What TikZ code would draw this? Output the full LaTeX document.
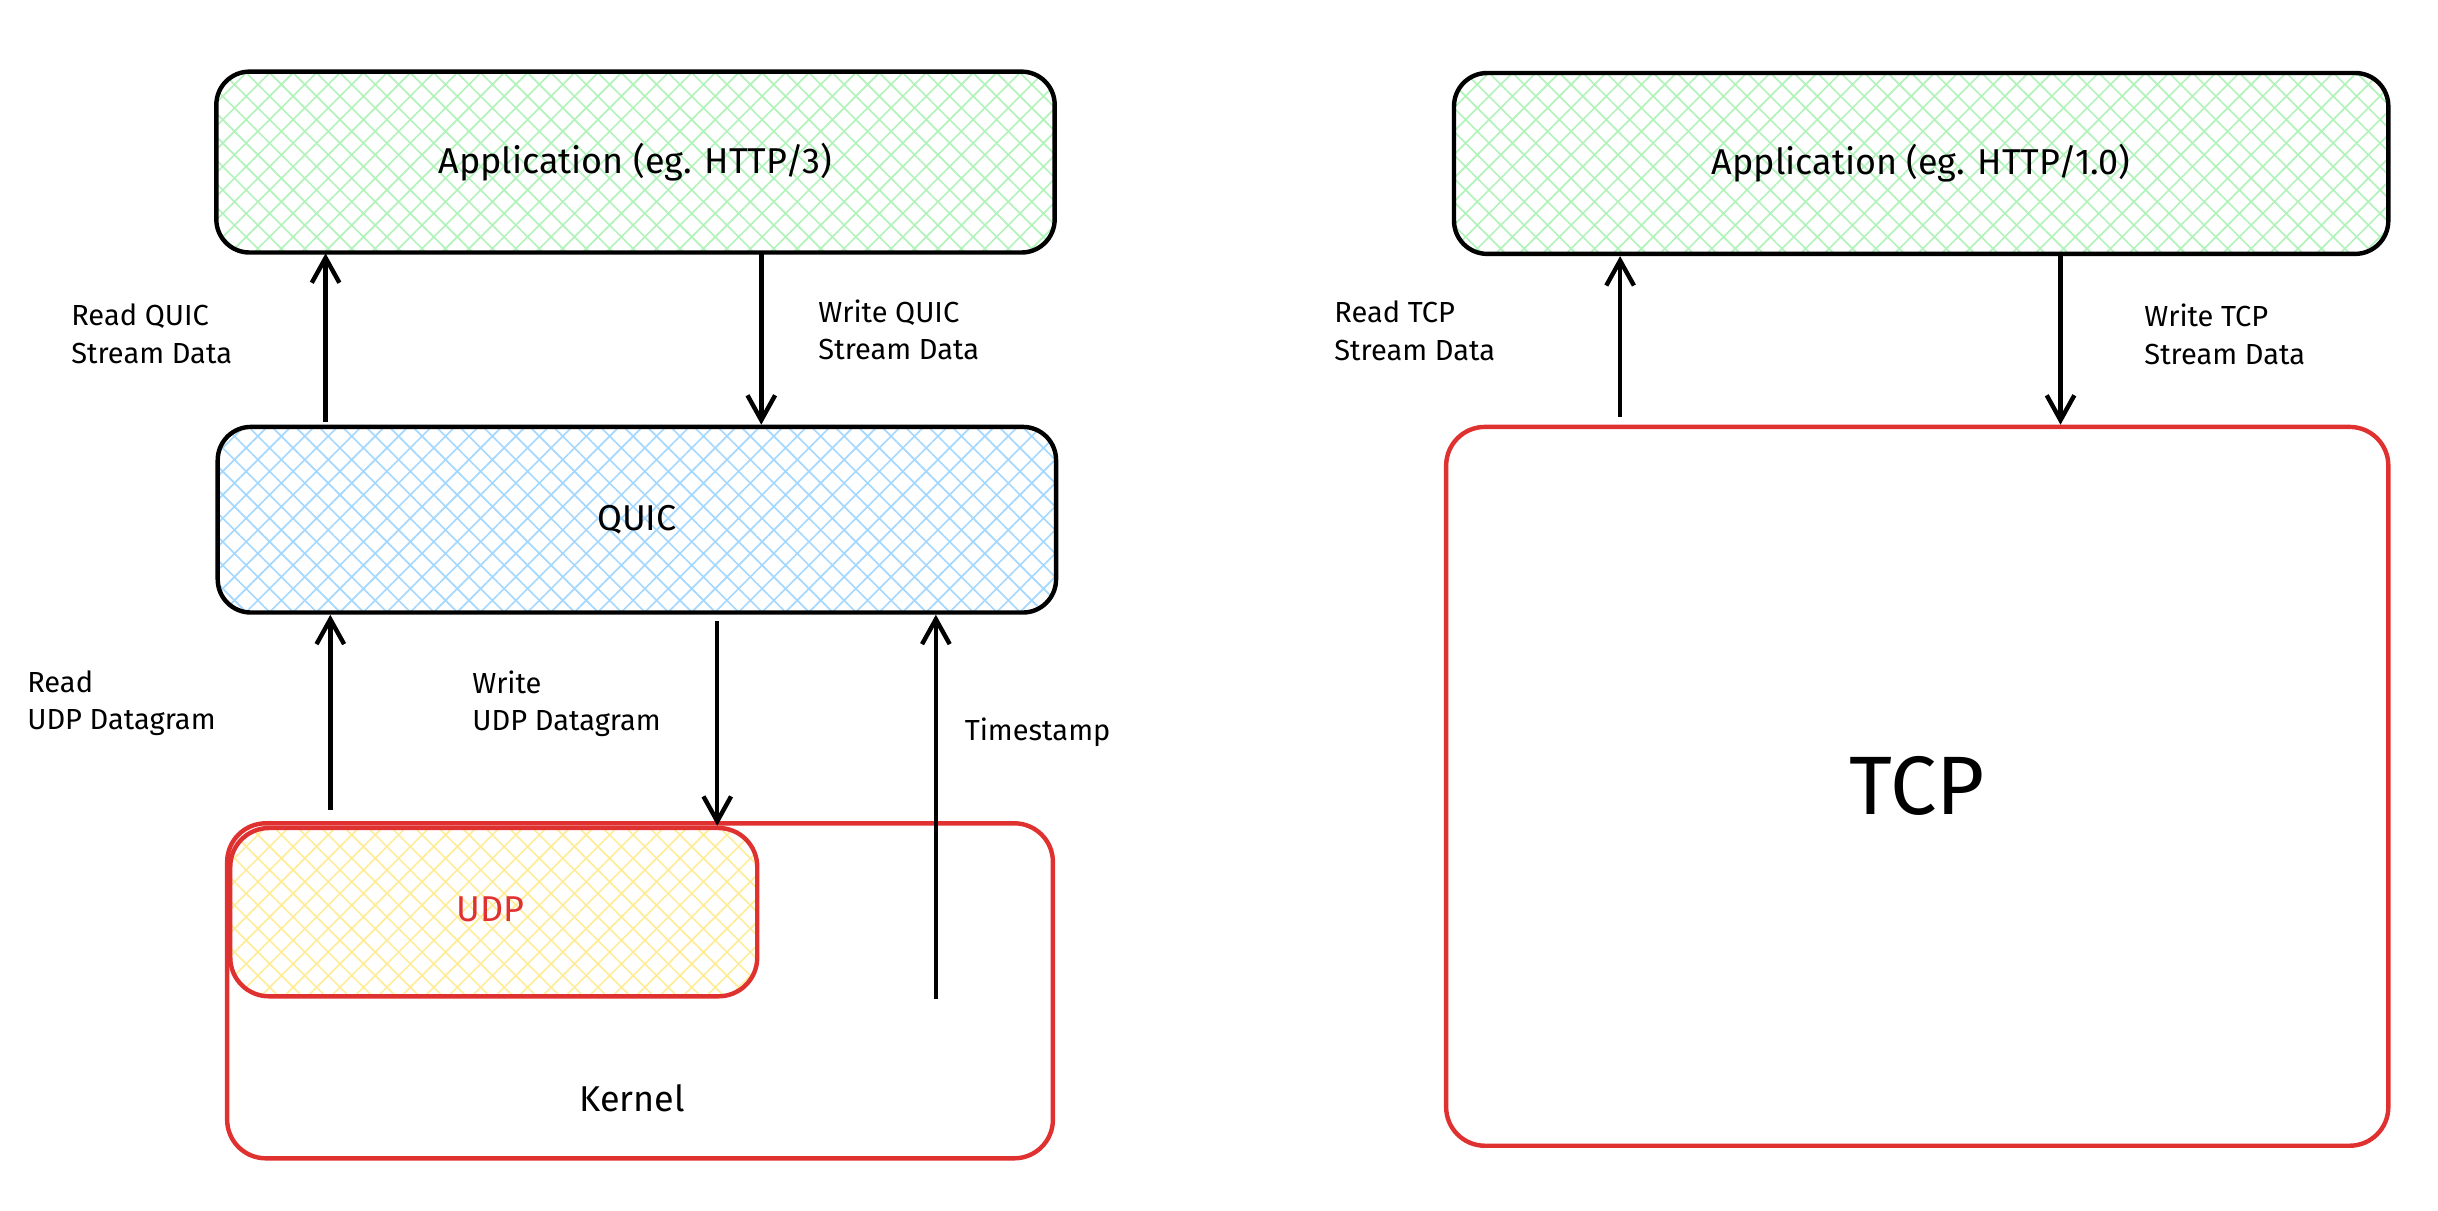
\documentclass[tikz,border=0pt]{standalone}
\usepackage{fontspec}
\setmainfont{Fira Sans}
\usetikzlibrary{patterns.meta,arrows.meta}
\definecolor{hgreen}{HTML}{B2F2BB}
\definecolor{hblue}{HTML}{A5D8FF}
\definecolor{hyellow}{HTML}{FFEC99}
\definecolor{kred}{HTML}{E03131}
\tikzset{
  layer/.style={draw=black, line width=1.6pt, rounded corners=12pt, inner sep=0pt, anchor=north west},
  hatched/.style={pattern={Hatch[angle=45,distance=6pt,line width=0.6pt]}, pattern color=#1},
  kbox/.style={draw=kred, line width=1.6pt, rounded corners=14pt, inner sep=0pt, anchor=north west},
  flow/.style={line width=1.6pt, -{Straight Barb[length=9pt,width=10pt]}},
  lbl/.style={align=left, anchor=north west, font=\fontsize{10.5}{13.5}\selectfont, inner sep=0pt},
  title/.style={font=\fontsize{13}{15}\selectfont}
}
\begin{document}
\begin{tikzpicture}[x=0.02cm, y=-0.02cm]
\useasboundingbox (0,0) rectangle (1550,769.3);
%left stack
\node[layer, hatched=hgreen, minimum width=533*0.02cm, minimum height=115*0.02cm] (app) at (137,45) {};
\node[title] at (app.center) {Application (eg. HTTP/3)};
\node[layer, hatched=hblue, minimum width=533*0.02cm, minimum height=118*0.02cm] (quic) at (137,270) {};
\node[title] at (quic.center) {QUIC};
\node[kbox, minimum width=525*0.02cm, minimum height=213*0.02cm] (kernel) at (143,522) {};
\node[title] at (402,698) {Kernel};
\node[kbox, hatched=hyellow, minimum width=335*0.02cm, minimum height=107*0.02cm] (udp) at (145,525) {};
\node[title, text=kred] at (312,578) {UDP};
%arrows
\coordinate (rq) at (207,268);
\coordinate (wq) at (484,160);
\coordinate (ru) at (210,515);
\coordinate (wu) at (456,395);
\coordinate (ts) at (595,635);
\draw[flow] (rq) -- (rq |- app.south);
\draw[flow] (wq) -- (wq |- quic.north);
\draw[flow] (ru) -- (ru |- quic.south);
\draw[flow] (wu) -- (wu |- udp.north);
\draw[flow] (ts) -- (ts |- quic.south);
%labels
\node[lbl] (lrq) at (45,193) {Read QUIC\\Stream Data};
\node[lbl] (lwq) at (520,190) {Write QUIC\\Stream Data};
\node[lbl] (lru) at (17,426) {Read\\UDP Datagram};
\node[lbl] (lwu) at (300,426) {Write\\UDP Datagram};
\node[lbl] (lts) at (613,456) {Timestamp};
%right stack
\node[layer, hatched=hgreen, minimum width=594*0.02cm, minimum height=115*0.02cm] (tapp) at (923,45) {};
\node[title] at (tapp.center) {Application (eg. HTTP/1.0)};
\node[kbox, minimum width=599*0.02cm, minimum height=457*0.02cm] (tcp) at (918,270) {};
\node[font=\fontsize{30}{34}\selectfont] at (tcp.center) {TCP};
\coordinate (rt) at (1030,265);
\coordinate (wt) at (1310,160);
\draw[flow] (rt) -- (rt |- tapp.south);
\draw[flow] (wt) -- (wt |- tcp.north);
\node[lbl] (lrt) at (848,191) {Read TCP\\Stream Data};
\node[lbl] (lwt) at (1363,193) {Write TCP\\Stream Data};
\end{tikzpicture}
\end{document}
